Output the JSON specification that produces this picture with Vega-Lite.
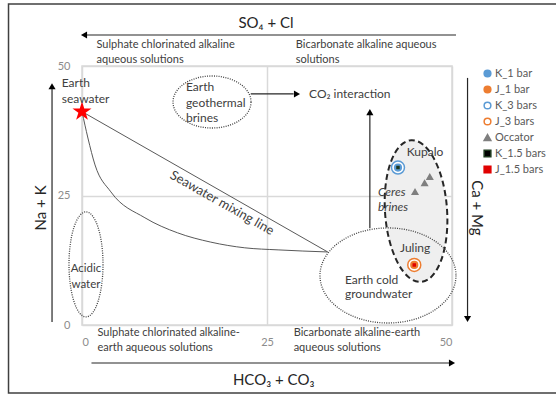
{
  "$schema": "https://vega.github.io/schema/vega-lite/v6.json",
  "width": 370,
  "height": 259,
  "autosize": "none",
  "padding": {"left": 82, "top": 66, "right": 104, "bottom": 70},
  "background": "white",
  "config": {
    "font": "Lato",
    "view": {"stroke": "#d9d9d9", "strokeWidth": 1.5},
    "axis": {"domain": false, "ticks": false, "grid": true, "gridColor": "#d9d9d9", "gridWidth": 1.5, "labelColor": "#8c8c8c", "labelFontSize": 11, "title": null},
    "legend": {"labelFontSize": 11, "labelColor": "#595959", "symbolSize": 45, "rowPadding": 3, "labelOffset": 2, "padding": 0, "symbolStrokeWidth": 1.5}
  },
  "datasets": {
    "points": [
      {"series": "K_3 bars", "x": 42.7, "y": 30.4},
      {"series": "J_3 bars", "x": 44.9, "y": 11.6},
      {"series": "K_1 bar", "x": 42.7, "y": 30.4},
      {"series": "J_1 bar", "x": 44.9, "y": 11.6},
      {"series": "Occator", "x": 45.0, "y": 25.7},
      {"series": "Occator", "x": 46.3, "y": 27.4},
      {"series": "Occator", "x": 47.0, "y": 28.6},
      {"series": "K_1.5 bars", "x": 42.7, "y": 30.4},
      {"series": "J_1.5 bars", "x": 44.9, "y": 11.6}
    ],
    "curve": [
      {"x": 0, "y": 41.2},
      {"x": 0.8, "y": 36.1},
      {"x": 1.76, "y": 30.9},
      {"x": 3.9, "y": 25.7},
      {"x": 8.5, "y": 20.7},
      {"x": 12.9, "y": 17.8},
      {"x": 17.4, "y": 16.0},
      {"x": 22.0, "y": 14.9},
      {"x": 26.5, "y": 14.5},
      {"x": 33.2, "y": 14.1}
    ]
  },
  "encoding": {
    "x": {"field": "x", "type": "quantitative", "scale": {"domain": [0, 50], "nice": false, "zero": false}, "axis": {"values": [0, 25, 50], "labelPadding": 11, "title": null}},
    "y": {"field": "y", "type": "quantitative", "scale": {"domain": [0, 50], "nice": false, "zero": false}, "axis": {"values": [0, 25, 50], "labelPadding": 12, "title": null}}
  },
  "layer": [
    {
      "data": {"values": [{"x": -9.93, "y": 61.97, "x2": 64.6, "y2": -13.13}]},
      "mark": {"type": "rect", "fill": null, "fillOpacity": 0, "stroke": "#404040", "strokeWidth": 1.5},
      "encoding": {"x2": {"field": "x2"}, "y2": {"field": "y2"}}
    },
    {
      "data": {"values": [{"x": 45.14, "y": 22.0}]},
      "mark": {"type": "point", "filled": true, "fill": "#efefef", "fillOpacity": 1, "stroke": "#262626", "strokeWidth": 2, "strokeDash": [6, 3.5], "angle": -4, "size": 20164,
        "shape": "M 0.437 0 C 0.437 0.552 0.241 1 0 1 C -0.241 1 -0.437 0.552 -0.437 0 C -0.437 -0.552 -0.241 -1 0 -1 C 0.241 -1 0.437 -0.552 0.437 0 Z"}
    },
    {
      "data": {"values": [{"x": 41.35, "y": 9.56}]},
      "mark": {"type": "point", "filled": false, "stroke": "#404040", "strokeWidth": 1.3, "strokeDash": [1, 1.3], "opacity": 1, "size": 18496,
        "shape": "M 1 0 C 1 0.386 0.552 0.699 0 0.699 C -0.552 0.699 -1 0.386 -1 0 C -1 -0.386 -0.552 -0.699 0 -0.699 C 0.552 -0.699 1 -0.386 1 0 Z"}
    },
    {
      "data": {"values": [{"x": 17.57, "y": 43.05}]},
      "mark": {"type": "point", "filled": false, "stroke": "#404040", "strokeWidth": 1.3, "strokeDash": [1, 1.3], "opacity": 1, "size": 6084,
        "shape": "M 1 0 C 1 0.368 0.552 0.667 0 0.667 C -0.552 0.667 -1 0.368 -1 0 C -1 -0.368 -0.552 -0.667 0 -0.667 C 0.552 -0.667 1 -0.368 1 0 Z"}
    },
    {
      "data": {"values": [{"x": 0.54, "y": 11.7}]},
      "mark": {"type": "point", "filled": false, "stroke": "#404040", "strokeWidth": 1.3, "strokeDash": [1, 1.3], "opacity": 1, "size": 11025,
        "shape": "M 0.324 0 C 0.324 0.552 0.179 1 0 1 C -0.179 1 -0.324 0.552 -0.324 0 C -0.324 -0.552 -0.179 -1 0 -1 C 0.179 -1 0.324 -0.552 0.324 0 Z"}
    },
    {
      "data": {"name": "curve"},
      "mark": {"type": "line", "interpolate": "monotone", "stroke": "#595959", "strokeWidth": 1}
    },
    {
      "data": {"values": [{"x": 0, "y": 41.2, "x2": 33.2, "y2": 14.1}]},
      "mark": {"type": "rule", "stroke": "#595959", "strokeWidth": 1},
      "encoding": {"x2": {"field": "x2"}, "y2": {"field": "y2"}}
    },
    {
      "data": {"values": [
        {"x": 50.54, "y": 55.98, "x2": 0.6, "y2": 55.98},
        {"x": 1.28, "y": -7.34, "x2": 49.7, "y2": -7.34},
        {"x": -4.05, "y": 0.58, "x2": -4.05, "y2": 45.6},
        {"x": 52.1, "y": 47.7, "x2": 52.1, "y2": 1.6},
        {"x": 38.9, "y": 18.7, "x2": 38.9, "y2": 40.6},
        {"x": 22.8, "y": 44.6, "x2": 28.6, "y2": 44.6}
      ]},
      "mark": {"type": "rule", "stroke": "#262626", "strokeWidth": 1.2},
      "encoding": {"x2": {"field": "x2"}, "y2": {"field": "y2"}}
    },
    {
      "data": {"values": [{"x": 0.27, "y": 55.98}]},
      "mark": {"type": "point", "shape": "triangle-left", "filled": true, "color": "#000000", "opacity": 1, "size": 50}
    },
    {
      "data": {"values": [{"x": 50.0, "y": -7.34}, {"x": 29.05, "y": 44.6}]},
      "mark": {"type": "point", "shape": "triangle-right", "filled": true, "color": "#000000", "opacity": 1, "size": 50}
    },
    {
      "data": {"values": [{"x": -4.05, "y": 46.1}, {"x": 38.9, "y": 41.1}]},
      "mark": {"type": "point", "shape": "triangle-up", "filled": true, "color": "#000000", "opacity": 1, "size": 50}
    },
    {
      "data": {"values": [{"x": 52.1, "y": 1.16}]},
      "mark": {"type": "point", "shape": "triangle-down", "filled": true, "color": "#000000", "opacity": 1, "size": 50}
    },
    {
      "data": {"values": [{"x": 0, "y": 41.2}]},
      "mark": {"type": "point", "filled": true, "color": "#ff0000", "opacity": 1, "size": 400,
        "shape": "M 0 -1 L 0.2245 -0.309 L 0.951 -0.309 L 0.363 0.118 L 0.588 0.809 L 0 0.382 L -0.588 0.809 L -0.363 0.118 L -0.951 -0.309 L -0.2245 -0.309 Z"}
    },
    {
      "data": {"name": "points"},
      "transform": [{"filter": {"field": "series", "oneOf": ["K_3 bars", "J_3 bars"]}}],
      "mark": {"type": "point", "opacity": 1, "strokeWidth": 1.5, "size": 169},
      "encoding": {
        "fill": {"field": "series", "type": "nominal",
          "scale": {"domain": ["K_1 bar", "J_1 bar", "K_3 bars", "J_3 bars", "Occator", "K_1.5 bars", "J_1.5 bars"],
                    "range": ["#5b9bd5", "#ed7d31", "#ffffff", "#ffffff", "#7f7f7f", "#000000", "#e00000"]},
          "legend": {"orient": "none", "legendX": 400, "legendY": 2, "title": null,
            "encode": {"symbols": {"update": {"size": {"signal": "indexof(['K_1.5 bars','J_1.5 bars'], datum.value) >= 0 ? 10 : 45"}}}}}},
        "stroke": {"field": "series", "type": "nominal",
          "scale": {"domain": ["K_1 bar", "J_1 bar", "K_3 bars", "J_3 bars", "Occator", "K_1.5 bars", "J_1.5 bars"],
                    "range": ["#5b9bd5", "#ed7d31", "#5b9bd5", "#ed7d31", "#7f7f7f", "#1f3a1f", "#e00000"]},
          "legend": {"orient": "none", "legendX": 400, "legendY": 2, "title": null,
            "encode": {"symbols": {"update": {"size": {"signal": "indexof(['K_1.5 bars','J_1.5 bars'], datum.value) >= 0 ? 10 : 45"}}}}}},
        "shape": {"field": "series", "type": "nominal",
          "scale": {"domain": ["K_1 bar", "J_1 bar", "K_3 bars", "J_3 bars", "Occator", "K_1.5 bars", "J_1.5 bars"],
                    "range": ["circle", "circle", "circle", "circle", "triangle-up", "square", "square"]},
          "legend": {"orient": "none", "legendX": 400, "legendY": 2, "title": null,
            "encode": {"symbols": {"update": {"size": {"signal": "indexof(['K_1.5 bars','J_1.5 bars'], datum.value) >= 0 ? 10 : 45"}}}}}}
      }
    },
    {
      "data": {"name": "points"},
      "transform": [{"filter": {"field": "series", "oneOf": ["K_1 bar", "J_1 bar"]}}],
      "mark": {"type": "point", "opacity": 1, "strokeWidth": 1.5, "size": 45},
      "encoding": {
        "fill": {"field": "series", "type": "nominal"},
        "stroke": {"field": "series", "type": "nominal"},
        "shape": {"field": "series", "type": "nominal"}
      }
    },
    {
      "data": {"name": "points"},
      "transform": [{"filter": {"field": "series", "oneOf": ["Occator"]}}],
      "mark": {"type": "point", "opacity": 1, "strokeWidth": 1.5, "size": 30},
      "encoding": {
        "fill": {"field": "series", "type": "nominal"},
        "stroke": {"field": "series", "type": "nominal"},
        "shape": {"field": "series", "type": "nominal"}
      }
    },
    {
      "data": {"name": "points"},
      "transform": [{"filter": {"field": "series", "oneOf": ["K_1.5 bars", "J_1.5 bars"]}}],
      "mark": {"type": "point", "opacity": 1, "strokeWidth": 1.5, "size": 4},
      "encoding": {
        "fill": {"field": "series", "type": "nominal"},
        "stroke": {"field": "series", "type": "nominal"},
        "shape": {"field": "series", "type": "nominal"}
      }
    },
    {
      "data": {"values": [{"x": 24.86, "y": 58.3, "t": "SO₄ + Cl"}, {"x": 25.9, "y": -10.6, "t": "HCO₃ + CO₃"}]},
      "mark": {"type": "text", "fontSize": 15, "color": "#262626", "align": "center", "baseline": "middle"},
      "encoding": {"text": {"field": "t"}}
    },
    {
      "data": {"values": [{"x": -5.54, "y": 22.6, "t": "Na + K"}]},
      "mark": {"type": "text", "fontSize": 15, "color": "#262626", "align": "center", "baseline": "middle", "angle": 270},
      "encoding": {"text": {"field": "t"}}
    },
    {
      "data": {"values": [{"x": 53.4, "y": 22.6, "t": "Ca + Mg"}]},
      "mark": {"type": "text", "fontSize": 15, "color": "#262626", "align": "center", "baseline": "middle", "angle": 90},
      "encoding": {"text": {"field": "t"}}
    },
    {
      "data": {"values": [
        {"x": 1.96, "y": 54.05, "t": "Sulphate chlorinated alkaline"},
        {"x": 1.96, "y": 51.16, "t": "aqueous solutions"},
        {"x": 28.9, "y": 54.05, "t": "Bicarbonate alkaline aqueous"},
        {"x": 28.9, "y": 51.16, "t": "solutions"},
        {"x": 2.09, "y": -1.54, "t": "Sulphate chlorinated alkaline-"},
        {"x": 2.09, "y": -4.44, "t": "earth aqueous solutions"},
        {"x": 28.6, "y": -1.54, "t": "Bicarbonate alkaline-earth"},
        {"x": 28.6, "y": -4.44, "t": "aqueous solutions"}
      ]},
      "mark": {"type": "text", "fontSize": 11, "color": "#404040", "align": "left", "baseline": "middle"},
      "encoding": {"text": {"field": "t"}}
    },
    {
      "data": {"values": [
        {"x": -2.74, "y": 46.66, "t": "Earth"},
        {"x": -2.74, "y": 43.63, "t": "seawater"},
        {"x": 14.05, "y": 45.95, "t": "Earth"},
        {"x": 14.05, "y": 42.86, "t": "geothermal"},
        {"x": 14.05, "y": 39.96, "t": "brines"},
        {"x": 30.68, "y": 44.6, "t": "CO₂ interaction"},
        {"x": 43.87, "y": 33.45, "t": "Kupalo"},
        {"x": 42.97, "y": 14.8, "t": "Juling"},
        {"x": 35.54, "y": 8.69, "t": "Earth cold"},
        {"x": 35.54, "y": 5.98, "t": "groundwater"}
      ]},
      "mark": {"type": "text", "fontSize": 12, "color": "#404040", "align": "left", "baseline": "middle"},
      "encoding": {"text": {"field": "t"}}
    },
    {
      "data": {"values": [{"x": 0.54, "y": 10.9, "t": "Acidic"}, {"x": 0.54, "y": 7.8, "t": "water"}]},
      "mark": {"type": "text", "fontSize": 11.5, "color": "#404040", "align": "center", "baseline": "middle"},
      "encoding": {"text": {"field": "t"}}
    },
    {
      "data": {"values": [{"x": 40.0, "y": 25.73, "t": "Ceres"}, {"x": 40.0, "y": 22.84, "t": "brines"}]},
      "mark": {"type": "text", "fontSize": 12, "fontStyle": "italic", "color": "#404040", "align": "left", "baseline": "middle"},
      "encoding": {"text": {"field": "t"}}
    },
    {
      "data": {"values": [{"x": 18.92, "y": 23.55, "t": "Seawater mixing line"}]},
      "mark": {"type": "text", "fontSize": 13, "color": "#404040", "align": "center", "baseline": "middle", "angle": 29.5},
      "encoding": {"text": {"field": "t"}}
    }
  ]
}
